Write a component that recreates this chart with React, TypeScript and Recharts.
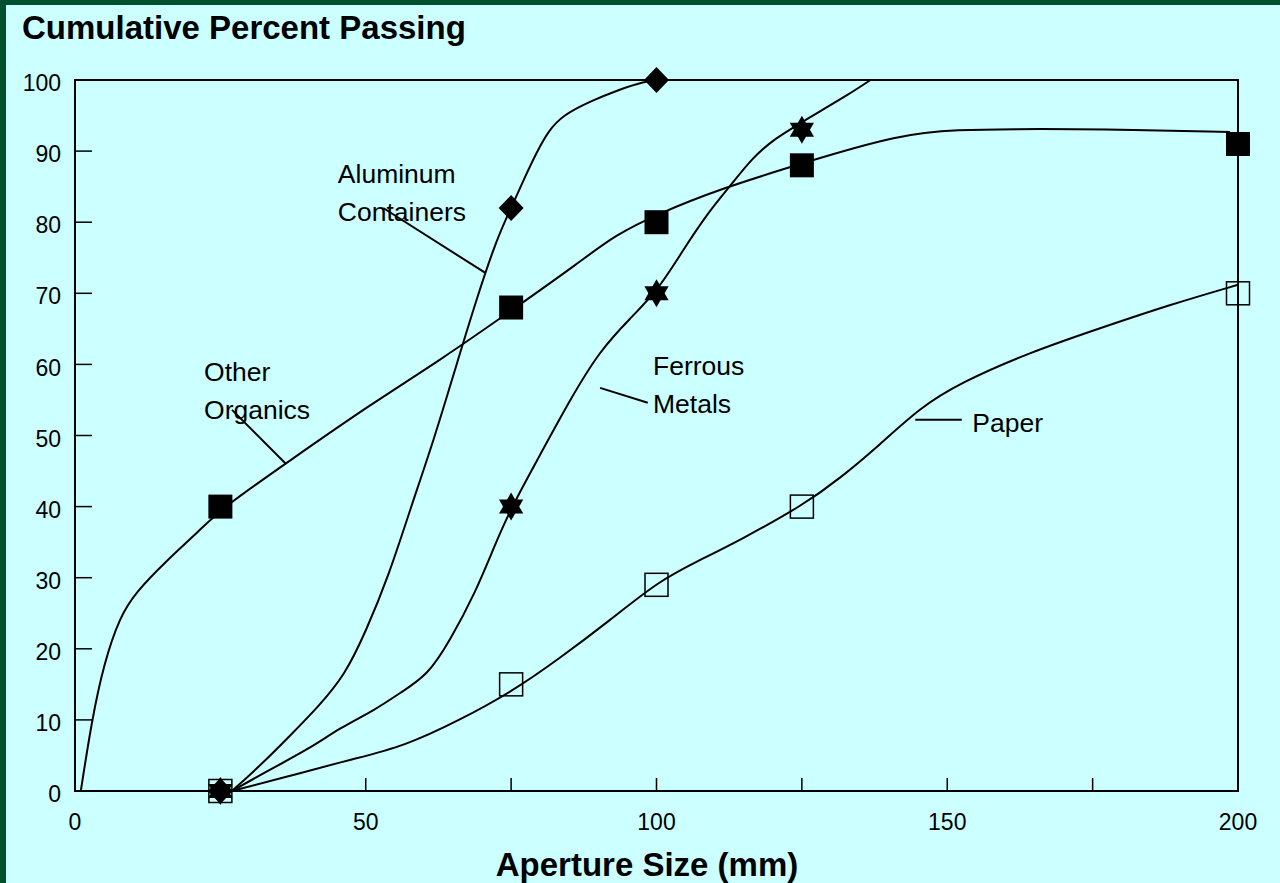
import {
  ComposedChart,
  Line,
  Scatter,
  XAxis,
  YAxis,
  ReferenceLine,
  ReferenceArea,
  ReferenceDot,
} from "recharts";

const FONT = '"Liberation Sans", Arial, Helvetica, sans-serif';

// x ticks every 25 mm, labels only every 50
const xTicks = [0, 25, 50, 75, 100, 125, 150, 175, 200];
const xTickLabels = ["0", "", "50", "", "100", "", "150", "", "200"];
const yTicks = [0, 10, 20, 30, 40, 50, 60, 70, 80, 90, 100];

// measured points (markers)
const aluminumPts = [
  { x: 25, y: 0 },
  { x: 75, y: 82 },
  { x: 100, y: 100 },
];
const organicsPts = [
  { x: 25, y: 40 },
  { x: 75, y: 68 },
  { x: 100, y: 80 },
  { x: 125, y: 88 },
  { x: 200, y: 91 },
];
const ferrousPts = [
  { x: 25, y: 0 },
  { x: 75, y: 40 },
  { x: 100, y: 70 },
  { x: 125, y: 93 },
];
const paperPts = [
  { x: 25, y: 0 },
  { x: 75, y: 15 },
  { x: 100, y: 29 },
  { x: 125, y: 40 },
  { x: 200, y: 70 },
];

// fitted curves
const aluminumCurve = [
  { x: 27, y: 0 },
  { x: 32, y: 3.7 },
  { x: 37, y: 7.8 },
  { x: 42, y: 12 },
  { x: 46.4, y: 16.3 },
  { x: 50, y: 22.4 },
  { x: 54, y: 30.4 },
  { x: 57.6, y: 39.5 },
  { x: 61.8, y: 49.6 },
  { x: 65.4, y: 59.4 },
  { x: 69.2, y: 69.6 },
  { x: 72.6, y: 77.8 },
  { x: 75.1, y: 82.2 },
  { x: 77.4, y: 86.4 },
  { x: 79.5, y: 90 },
  { x: 81.4, y: 92.8 },
  { x: 83.8, y: 95 },
  { x: 88.6, y: 97 },
  { x: 93.7, y: 98.7 },
  { x: 98, y: 99.8 },
  { x: 100, y: 100 },
];
const organicsCurve = [
  { x: 1, y: 0 },
  { x: 2.9, y: 10 },
  { x: 5, y: 18 },
  { x: 7.7, y: 24.5 },
  { x: 10.5, y: 28 },
  { x: 15.5, y: 32.2 },
  { x: 21.5, y: 36.7 },
  { x: 25.3, y: 39.8 },
  { x: 37, y: 46.5 },
  { x: 50.7, y: 54.3 },
  { x: 62.8, y: 60.6 },
  { x: 75.1, y: 67.6 },
  { x: 86.8, y: 74.4 },
  { x: 92.9, y: 78.2 },
  { x: 100.3, y: 81.2 },
  { x: 111, y: 84.7 },
  { x: 124.7, y: 88.2 },
  { x: 141.9, y: 92.4 },
  { x: 152.2, y: 93 },
  { x: 160.8, y: 93.1 },
  { x: 176, y: 93.1 },
  { x: 198.6, y: 92.7 },
];
const ferrousCurve = [
  { x: 27, y: 0 },
  { x: 33.5, y: 3 },
  { x: 40.4, y: 6 },
  { x: 45.6, y: 8.9 },
  { x: 51.6, y: 11.4 },
  { x: 55.9, y: 13.8 },
  { x: 60.7, y: 16.3 },
  { x: 64.5, y: 21.2 },
  { x: 68.8, y: 27.8 },
  { x: 72.2, y: 34.6 },
  { x: 75.1, y: 40 },
  { x: 80, y: 47.3 },
  { x: 85.1, y: 55 },
  { x: 90.3, y: 62 },
  { x: 95.4, y: 66.4 },
  { x: 100.3, y: 70.5 },
  { x: 104.5, y: 76 },
  { x: 108.9, y: 81.4 },
  { x: 112.6, y: 85 },
  { x: 116.4, y: 89 },
  { x: 120.4, y: 91.8 },
  { x: 124.7, y: 93.9 },
  { x: 128.1, y: 95.6 },
  { x: 132.9, y: 97.9 },
  { x: 136.8, y: 100 },
];
const paperCurve = [
  { x: 27, y: 0 },
  { x: 38.7, y: 2.5 },
  { x: 47.3, y: 4.4 },
  { x: 56.7, y: 6.3 },
  { x: 66.2, y: 10 },
  { x: 75, y: 13.9 },
  { x: 83.4, y: 18.7 },
  { x: 92, y: 24 },
  { x: 100.3, y: 29.5 },
  { x: 107.5, y: 32.5 },
  { x: 114.4, y: 35.3 },
  { x: 125.2, y: 40.2 },
  { x: 131.6, y: 44 },
  { x: 138.4, y: 48.7 },
  { x: 145.3, y: 53.9 },
  { x: 152.2, y: 57.4 },
  { x: 164.2, y: 61.7 },
  { x: 176.3, y: 65.1 },
  { x: 188.3, y: 68.4 },
  { x: 200, y: 71.2 },
];

// annotation text and leader lines
const labels = [
  { x: 45.2, y: 85.5, lines: ["Aluminum", "Containers"] },
  { x: 22.2, y: 57.7, lines: ["Other", "Organics"] },
  { x: 99.4, y: 58.5, lines: ["Ferrous", "Metals"] },
  { x: 154.3, y: 50.5, lines: ["Paper"] },
];
const leaders = [
  [{ x: 53, y: 82 }, { x: 70.5, y: 72.9 }],
  [{ x: 27, y: 53.6 }, { x: 36.3, y: 46 }],
  [{ x: 90.3, y: 56.7 }, { x: 98.5, y: 54.6 }],
  [{ x: 144.5, y: 52.2 }, { x: 152.5, y: 52.2 }],
];

const FilledSquare = (p: any) => (
  <rect x={p.cx - 12} y={p.cy - 12} width={24} height={24} fill="#000" />
);
const OpenSquare = (p: any) => (
  <rect
    x={p.cx - 11.5}
    y={p.cy - 11.5}
    width={23}
    height={23}
    fill="none"
    stroke="#000"
    strokeWidth={1.5}
  />
);
const Diamond = (p: any) => (
  <polygon
    points={`${p.cx},${p.cy - 13} ${p.cx + 12.5},${p.cy} ${p.cx},${p.cy + 13} ${p.cx - 12.5},${p.cy}`}
    fill="#000"
  />
);
const Star = (p: any) => {
  const r = 14;
  const h = r * 0.866;
  const up = `${p.cx},${p.cy - r} ${p.cx + h},${p.cy + r / 2} ${p.cx - h},${p.cy + r / 2}`;
  const down = `${p.cx},${p.cy + r} ${p.cx + h},${p.cy - r / 2} ${p.cx - h},${p.cy - r / 2}`;
  return (
    <g>
      <polygon points={up} fill="#000" />
      <polygon points={down} fill="#000" />
    </g>
  );
};

const curveProps = {
  type: "basis" as const,
  dataKey: "y",
  stroke: "#000",
  strokeWidth: 2,
  dot: false,
  activeDot: false,
  isAnimationActive: false,
};

export default function App() {
  return (
    <div
      style={{
        position: "absolute",
        left: 0,
        top: 0,
        width: 1280,
        height: 883,
        background: "#ccffff",
        fontFamily: FONT,
        overflow: "hidden",
      }}
    >
      <div style={{ position: "absolute", left: 0, top: 0, width: 1280, height: 5, background: "#00502f" }} />
      <div style={{ position: "absolute", left: 0, top: 0, width: 6, height: 883, background: "#00502f" }} />
      <div
        style={{
          position: "absolute",
          left: 22,
          top: 11,
          fontSize: 33,
          lineHeight: "33px",
          fontWeight: "bold",
          color: "#000",
        }}
      >
        Cumulative Percent Passing
      </div>
      <div
        style={{
          position: "absolute",
          left: 347,
          width: 600,
          textAlign: "center",
          top: 848,
          fontSize: 33,
          lineHeight: "33px",
          fontWeight: "bold",
          color: "#000",
        }}
      >
        Aperture Size (mm)
      </div>
      <div style={{ position: "absolute", left: 0, top: 0 }}>
        <ComposedChart
          width={1280}
          height={883}
          margin={{ top: 80, right: 42, bottom: 42, left: 15 }}
        >
          <XAxis
            type="number"
            dataKey="x"
            domain={[0, 200]}
            ticks={xTicks}
            tickFormatter={(v: number) => xTickLabels[xTicks.indexOf(v)] ?? ""}
            height={50}
            interval={0}
            stroke="#000"
            strokeWidth={2}
            tickSize={-13}
            tickMargin={36}
            tick={{ fill: "#000", fontSize: 23, fontFamily: FONT }}
            tickLine={{ stroke: "#000", strokeWidth: 1.5 }}
          />
          <YAxis
            type="number"
            dataKey="y"
            domain={[0, 100]}
            ticks={yTicks}
            width={60}
            interval={0}
            stroke="#000"
            strokeWidth={2}
            tickSize={-17}
            tickMargin={31}
            tick={{ fill: "#000", fontSize: 23, fontFamily: FONT, dy: 3 }}
            tickLine={{ stroke: "#000", strokeWidth: 1.5 }}
          />
          <ReferenceArea
            x1={0}
            x2={200}
            y1={0}
            y2={100}
            fill="none"
            stroke="#000"
            strokeWidth={2}
          />
          {leaders.map((seg, i) => (
            <ReferenceLine key={i} segment={seg} stroke="#000" strokeWidth={2} />
          ))}
          {labels.map((l, i) => (
            <ReferenceDot
              key={i}
              x={l.x}
              y={l.y}
              r={0}
              shape={(p: any) => (
                <text x={p.cx} y={p.cy} fontSize={26.5} fontFamily={FONT} fill="#000">
                  {l.lines.map((t, j) => (
                    <tspan key={j} x={p.cx} dy={j === 0 ? 0 : 38}>
                      {t}
                    </tspan>
                  ))}
                </text>
              )}
            />
          ))}
          <Line data={organicsCurve} {...curveProps} />
          <Line data={aluminumCurve} {...curveProps} />
          <Line data={ferrousCurve} {...curveProps} />
          <Line data={paperCurve} {...curveProps} />
          <Scatter data={paperPts} dataKey="y" shape={OpenSquare} isAnimationActive={false} />
          <Scatter data={organicsPts} dataKey="y" shape={FilledSquare} isAnimationActive={false} />
          <Scatter data={ferrousPts} dataKey="y" shape={Star} isAnimationActive={false} />
          <Scatter data={aluminumPts} dataKey="y" shape={Diamond} isAnimationActive={false} />
        </ComposedChart>
      </div>
    </div>
  );
}
